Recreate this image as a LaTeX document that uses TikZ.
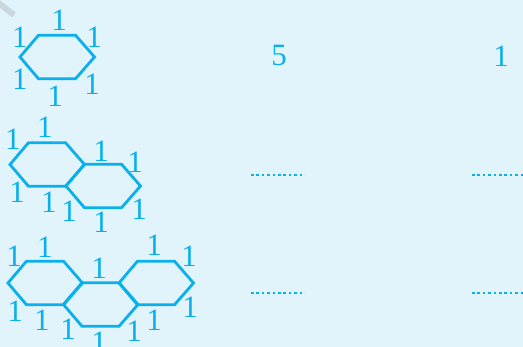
\documentclass[tikz,border=0pt]{standalone}
\usepackage{fontspec}
\setmainfont{Liberation Serif}
\definecolor{bgblue}{HTML}{E1F3FB}
\definecolor{cyanline}{HTML}{0AB0EC}
\definecolor{wmgray}{HTML}{C9D6DC}
\begin{document}
\begin{tikzpicture}[x=1pt,y=-1pt,
  lab/.style={inner sep=0pt,text=cyanline,font=\fontsize{31}{31}\selectfont},
  hexline/.style={draw=cyanline,line width=2.8pt,line join=miter},
  dotline/.style={draw=cyanline,line width=2.8pt,dash pattern=on 2.6pt off 2.8pt},
  hexpic/.pic={\draw[hexline] (0,0) -- (18.5,-21.8) -- (55.5,-21.8) -- (74.5,0) -- (55.5,21.8) -- (18.5,21.8) -- cycle;}
]
\useasboundingbox (0,0) rectangle (523,347);
\fill[bgblue] (0,0) rectangle (523,347);
\draw[wmgray,line width=6pt] (-4,1) -- (14,15);
% row 1
\pic at (20,57) {hexpic};
\node[lab] (a1) at (59,20) {1};
\node[lab] (a2) at (20,37) {1};
\node[lab] (a3) at (94,37) {1};
\node[lab] (a4) at (20,79) {1};
\node[lab] (a5) at (92,84) {1};
\node[lab] (a6) at (55,96) {1};
\node[lab] (r1a) at (279,56) {5};
\node[lab] (r1b) at (501,56) {1};
% row 2
\pic at (10,164.5) {hexpic};
\pic at (66,186) {hexpic};
\node[lab] (b1) at (13,139) {1};
\node[lab] (b2) at (45,127) {1};
\node[lab] (b3) at (101,151) {1};
\node[lab] (b4) at (135,162) {1};
\node[lab] (b5) at (17,192) {1};
\node[lab] (b6) at (49,202) {1};
\node[lab] (b7) at (69,211) {1};
\node[lab] (b8) at (139,209) {1};
\node[lab] (b9) at (101,222) {1};
\draw[dotline] (251,175) -- (305,175);
\draw[dotline] (472,175) -- (525,175);
% row 3
\pic at (8,283) {hexpic};
\pic at (63.5,304.5) {hexpic};
\pic at (119,283) {hexpic};
\node[lab] (c1) at (14,256) {1};
\node[lab] (c2) at (45,247) {1};
\node[lab] (c3) at (99,268) {1};
\node[lab] (c4) at (154,245) {1};
\node[lab] (c5) at (189,256) {1};
\node[lab] (c6) at (15,311) {1};
\node[lab] (c7) at (42,320) {1};
\node[lab] (c8) at (68,329) {1};
\node[lab] (c9) at (99,342) {1};
\node[lab] (c10) at (134,331) {1};
\node[lab] (c11) at (154,320) {1};
\node[lab] (c12) at (190,307) {1};
\draw[dotline] (251,293) -- (305,293);
\draw[dotline] (472,293) -- (525,293);
\end{tikzpicture}
\end{document}
